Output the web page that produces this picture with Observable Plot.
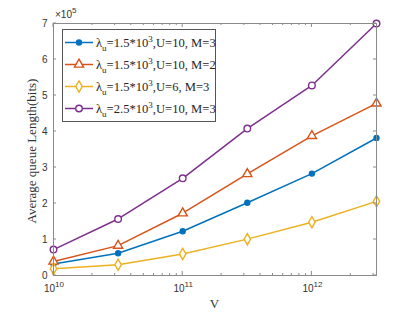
<!DOCTYPE html>
<html><head><meta charset="utf-8">
<script src="https://cdn.jsdelivr.net/npm/d3@7"></script>
<script src="https://cdn.jsdelivr.net/npm/@observablehq/plot@0.6"></script>
<style>body{margin:0;background:#fff}</style>
</head><body><div id="chart"></div>
<script>
// ---- data ----
const V = [1e10, 3.1623e10, 1e11, 3.1623e11, 1e12, 3.1623e12];
const blueVals   = [0.32, 0.62, 1.23, 2.02, 2.83, 3.82];
const orangeVals = [0.39, 0.83, 1.73, 2.82, 3.88, 4.78];
const yellowVals = [0.19, 0.30, 0.60, 1.01, 1.48, 2.06];
const purpleVals = [0.72, 1.57, 2.70, 4.08, 5.28, 7.00];
const seriesKeys = ["a", "b", "c", "d"];
const seriesLam = ["1.5", "1.5", "1.5", "2.5"];
const seriesRest = [",U=10, M=3", ",U=10, M=2", ",U=6, M=3", ",U=10, M=3"];
const seriesColors = ["#0072BD", "#D95319", "#EDB120", "#7E2F8E"];
const seriesSymbols = ["circle", "triangle", "diamond", "circle"];
const seriesR = [2.5, 3.4, 3.4, 3.3];
const yTicks = [0, 1, 2, 3, 4, 5, 6, 7];
const xDecades = [1e10, 1e11, 1e12];
const xDecadeExp = ["10", "11", "12"];
const xMinor = [2e10,3e10,4e10,5e10,6e10,7e10,8e10,9e10,2e11,3e11,4e11,5e11,6e11,7e11,8e11,9e11,2e12,3e12];
const yLabel = "Average queue Length(bits)";
const xLabel = "V";

const allVals = [blueVals, orangeVals, yellowVals, purpleVals];
const rows = [];
allVals.forEach((vals, i) => vals.forEach((v, j) => rows.push({V: V[j], y: v, s: i})));

const axisColor = "#8a8a8a";
const dotMarks = seriesKeys.map((k, i) => Plot.dot(rows.filter(d => d.s === i), {
  x: "V", y: "y", symbol: seriesSymbols[i],
  r: seriesR[i],
  fill: i === 0 ? seriesColors[i] : "white",
  stroke: seriesColors[i], strokeWidth: 1.4
}));

const chart = Plot.plot({
  width: 415, height: 312,
  marginLeft: 53, marginRight: 39, marginTop: 23, marginBottom: 37,
  style: {background: "white", fontFamily: "'Liberation Sans', Arial, sans-serif", fontSize: "10px", color: "#333"},
  x: {type: "log", domain: [1e10, Math.pow(10, 12.5)], axis: null},
  y: {domain: [0, 7], axis: null},
  marks: [
    Plot.axisY(yTicks, {anchor: "left", tickSize: 0, tickPadding: 6, label: null, fill: "#333"}),
    Plot.line(rows, {x: "V", y: "y", z: "s", stroke: d => seriesColors[d.s], strokeWidth: 1.5}),
    ...dotMarks,
    Plot.frame({stroke: axisColor, strokeWidth: 1})
  ]
});

const sx = chart.scale("x"), sy = chart.scale("y");
const [X0, X1] = sx.range;
const Yb = sy.apply(0), Yt = sy.apply(7);
const svg = d3.select(chart);
const tg = svg.append("g").attr("stroke", axisColor).attr("stroke-width", 1);
// inward ticks
xDecades.forEach(v => {
  const x = sx.apply(v);
  tg.append("line").attr("x1", x).attr("x2", x).attr("y1", Yb).attr("y2", Yb - 4);
  tg.append("line").attr("x1", x).attr("x2", x).attr("y1", Yt).attr("y2", Yt + 4);
});
xMinor.forEach(v => {
  const x = sx.apply(v);
  tg.append("line").attr("x1", x).attr("x2", x).attr("y1", Yb).attr("y2", Yb - 2);
  tg.append("line").attr("x1", x).attr("x2", x).attr("y1", Yt).attr("y2", Yt + 2);
});
yTicks.forEach(v => {
  const y = sy.apply(v);
  tg.append("line").attr("x1", X0).attr("x2", X0 + 3).attr("y1", y).attr("y2", y);
  tg.append("line").attr("x1", X1).attr("x2", X1 - 3).attr("y1", y).attr("y2", y);
});
// x tick labels
xDecades.forEach((v, i) => {
  const t = svg.append("text").attr("x", sx.apply(v) + 1).attr("y", Yb + 17)
    .attr("text-anchor", "middle").attr("fill", "#333")
    .style("font-family", "'Liberation Sans', Arial, sans-serif").style("font-size", "10px");
  t.append("tspan").text("10");
  t.append("tspan").attr("dy", -5).style("font-size", "8px").text(xDecadeExp[i]);
});
// x10^5
const ex = svg.append("text").attr("x", X0 + 2).attr("y", Yt - 5).attr("fill", "#333")
  .attr("text-anchor", "start")
  .style("font-family", "'Liberation Sans', Arial, sans-serif").style("font-size", "10px");
ex.append("tspan").text("×10");
ex.append("tspan").attr("dy", -5).style("font-size", "8px").text("5");
// axis labels
const serif = "'Liberation Serif', 'Times New Roman', serif";
svg.append("text").attr("transform", `translate(33,${(Yb + Yt) / 2 + 2}) rotate(-90)`)
  .attr("text-anchor", "middle").attr("dominant-baseline", "middle").attr("fill", "#333")
  .style("font-family", serif).style("font-size", "13px").text(yLabel);
svg.append("text").attr("x", (X0 + X1) / 2).attr("y", 308).attr("text-anchor", "middle").attr("fill", "#333")
  .style("font-family", serif).style("font-size", "13px").text(xLabel);
// legend
const lg = svg.append("g");
lg.append("rect").attr("x", 62.5).attr("y", 29.5).attr("width", 153).attr("height", 92)
  .attr("fill", "white").attr("stroke", "#555").attr("stroke-width", 1);
const symGen = {circle: d3.symbolCircle, triangle: d3.symbolTriangle, diamond: d3.symbolDiamond};
seriesKeys.forEach((k, i) => {
  const y = 42.5 + i * 22;
  lg.append("line").attr("x1", 65).attr("x2", 93).attr("y1", y).attr("y2", y)
    .attr("stroke", seriesColors[i]).attr("stroke-width", 1.5);
  const r = seriesR[i];
  lg.append("path").attr("d", d3.symbol(symGen[seriesSymbols[i]], Math.PI * r * r)())
    .attr("transform", `translate(79,${y})`)
    .attr("fill", i === 0 ? seriesColors[i] : "white").attr("stroke", seriesColors[i]).attr("stroke-width", 1.4);
  const t = lg.append("text").attr("x", 96).attr("y", y + 4).attr("fill", "#262626")
    .attr("text-anchor", "start")
    .style("font-family", serif).style("font-size", "12.6px");
  t.append("tspan").text("λ");
  t.append("tspan").attr("dy", 4).style("font-size", "9px").text("u");
  t.append("tspan").attr("dy", -4).text("=" + seriesLam[i] + "*10");
  t.append("tspan").attr("dy", -5).style("font-size", "9px").text("3");
  t.append("tspan").attr("dy", 5).text(seriesRest[i]);
});

document.getElementById("chart").appendChild(chart);
</script>
</body></html>
